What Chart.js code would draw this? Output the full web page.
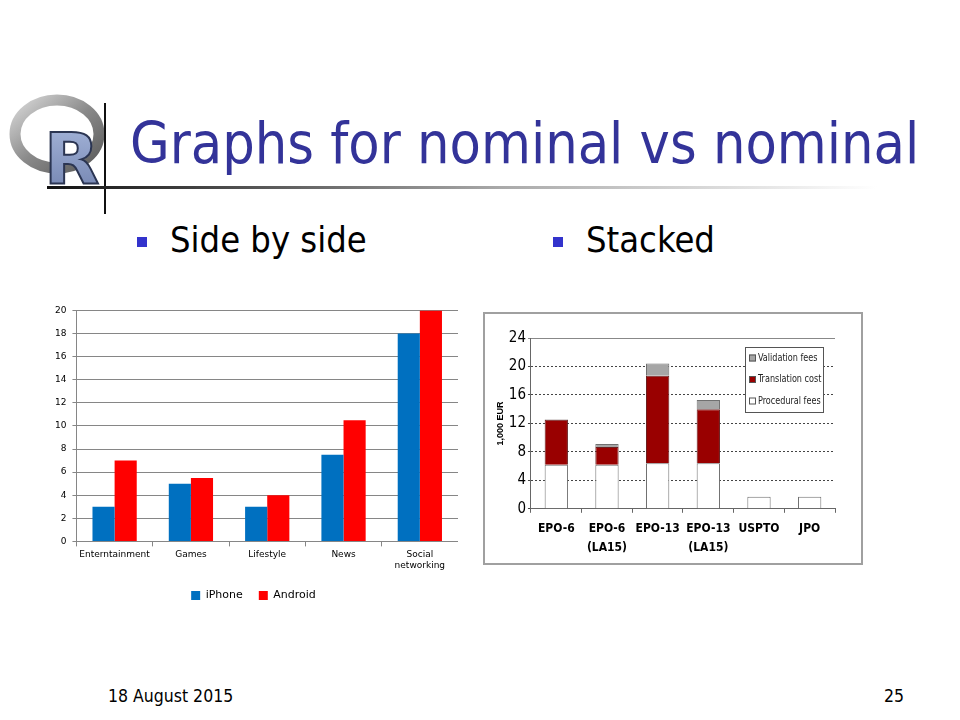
<!DOCTYPE html>
<html>
<head>
<meta charset="utf-8">
<script src="https://cdn.jsdelivr.net/npm/chart.js@4.4.0/dist/chart.umd.min.js"></script>
<style>
  body { margin: 0; background: #fff; }
  #slide { position: relative; width: 960px; height: 720px; overflow: hidden; background: #fff;
           font-family: "DejaVu Sans Condensed", "DejaVu Sans", sans-serif; }
  .abs { position: absolute; }
  #title { left: 130px; top: 115px; font-size: 57px; color: #333399; white-space: nowrap; line-height: 1; }
  .sub { font-size: 36px; color: #000; white-space: nowrap; line-height: 1; top: 222px; }
  .bullet { width: 10px; height: 10px; background: #3333cc; top: 237px; }
  #hline { left: 47px; top: 186px; width: 830px; height: 3px;
           background: linear-gradient(to right, #111 0%, #555 25%, #aaa 55%, #fff 100%); }
  #vline { left: 104px; top: 103px; width: 2px; height: 111px; background: #111; }
  .foot { font-size: 17.5px; color: #000; top: 688px; line-height: 1; }
  #leftBox { left: 49px; top: 299px; width: 409px; height: 312px; }
  #rightFrame { left: 483px; top: 312px; width: 376px; height: 249px; border: 2px solid #a0a0a0; background: #fff; }
  #rightBox { position: absolute; left: 0; top: 0; width: 376px; height: 255px; }
</style>
</head>
<body>
<div id="slide">
  <svg class="abs" style="left:8px;top:90px" width="100" height="100" viewBox="0 0 100 100">
    <defs>
      <linearGradient id="ring" x1="0" y1="0" x2="1" y2="1">
        <stop offset="0" stop-color="#d8d8d8"/>
        <stop offset="0.5" stop-color="#8a8a8a"/>
        <stop offset="1" stop-color="#5a5a5a"/>
      </linearGradient>
      <linearGradient id="rfill" x1="0" y1="0" x2="0" y2="1">
        <stop offset="0" stop-color="#a8b8dc"/>
        <stop offset="1" stop-color="#6f80ad"/>
      </linearGradient>
    </defs>
    <ellipse cx="49" cy="44" rx="42" ry="34" fill="none" stroke="url(#ring)" stroke-width="11"/>
    <text x="36" y="94" font-family="DejaVu Sans" font-weight="bold" font-size="72" fill="url(#rfill)" stroke="#2b3552" stroke-width="2">R</text>
  </svg>
  <div id="vline" class="abs"></div>
  <div id="hline" class="abs"></div>
  <div id="title" class="abs">Graphs for nominal vs nominal</div>

  <div class="abs bullet" style="left:137px"></div>
  <div class="abs sub" style="left:170px">Side by side</div>
  <div class="abs bullet" style="left:553px"></div>
  <div class="abs sub" style="left:586px">Stacked</div>

  <div id="leftBox" class="abs"><canvas id="sideChart"></canvas></div>
  <div id="rightFrame" class="abs"><div id="rightBox"><canvas id="stackChart"></canvas></div></div>

  <div class="abs foot" style="left:108px">18 August 2015</div>
  <div class="abs foot" style="left:884px">25</div>
</div>

<script>
// --- Side by side data ---
const appCategories = ["Enterntainment", "Games", "Lifestyle", "News", ["Social", "networking"]];
const iphoneValues = [3, 5, 3, 7.5, 18];
const androidValues = [7, 5.5, 4, 10.5, 20];
const sideTicks = [0, 2, 4, 6, 8, 10, 12, 14, 16, 18, 20];

// --- Stacked data ---
const officeCategories = ["EPO-6", ["EPO-6", "(LA15)"], "EPO-13", ["EPO-13", "(LA15)"], "USPTO", "JPO"];
const proceduralFees = [6.2, 6.2, 6.4, 6.4, 1.7, 1.7];
const translationCost = [6.3, 2.5, 12.3, 7.6, 0, 0];
const validationFees = [0.1, 0.4, 1.7, 1.3, 0, 0];
const stackTicks = [0, 4, 8, 12, 16, 20, 24];

const narrow = "'DejaVu Sans Condensed', 'DejaVu Sans'";
Chart.defaults.animation = false;

new Chart(document.getElementById("sideChart"), {
  type: "bar",
  data: {
    labels: appCategories,
    datasets: [
      { label: "iPhone", data: iphoneValues, backgroundColor: "#0070c0" },
      { label: "Android", data: androidValues, backgroundColor: "#ff0000" },
    ],
  },
  options: {
    responsive: true,
    maintainAspectRatio: false,
    categoryPercentage: 0.58,
    barPercentage: 1,
    plugins: {
      legend: {
        position: "bottom",
        labels: { boxWidth: 9, boxHeight: 9, padding: 16, color: "#000",
                  font: { family: "DejaVu Sans", size: 11 } },
      },
      tooltip: { enabled: false },
    },
    scales: {
      x: {
        grid: { drawOnChartArea: false, color: "#868686", tickLength: 5 },
        border: { color: "#868686" },
        ticks: { color: "#000", maxRotation: 0, autoSkip: false, font: { family: "DejaVu Sans", size: 9 } },
      },
      y: {
        min: 0,
        max: 20,
        afterBuildTicks: (axis) => { axis.ticks = sideTicks.map((v) => ({ value: v })); },
        grid: { color: "#868686", tickLength: 4 },
        border: { color: "#868686" },
        ticks: { color: "#000", padding: 6, font: { family: "DejaVu Sans", size: 9 } },
      },
    },
  },
});

// legend drawn inside the plot, top right, like the original figure
const insideLegend = {
  id: "insideLegend",
  afterDraw(chart) {
    const ctx = chart.ctx;
    const area = chart.chartArea;
    const items = chart.data.datasets.slice().reverse();
    const w = 78, h = 65;
    const x = area.right - w - 12, y = area.top + 9;
    ctx.save();
    ctx.fillStyle = "#fff";
    ctx.strokeStyle = "#555";
    ctx.lineWidth = 1;
    ctx.fillRect(x, y, w, h);
    ctx.strokeRect(x + 0.5, y + 0.5, w, h);
    ctx.font = "10px " + narrow;
    ctx.textBaseline = "middle";
    items.forEach((ds, i) => {
      const cy = y + 11 + i * 21.5;
      ctx.fillStyle = ds.backgroundColor;
      ctx.fillRect(x + 4, cy - 3.5, 7, 7);
      ctx.strokeStyle = "#555";
      ctx.strokeRect(x + 4.5, cy - 3, 6, 6);
      ctx.fillStyle = "#222";
      ctx.save();
      ctx.translate(x + 13, cy);
      ctx.scale(0.9, 1);
      ctx.fillText(ds.label, 0, 0);
      ctx.restore();
    });
    ctx.restore();
  },
};

new Chart(document.getElementById("stackChart"), {
  type: "bar",
  data: {
    labels: officeCategories,
    datasets: [
      { label: "Procedural fees", data: proceduralFees, backgroundColor: "#ffffff", borderColor: "#707070", borderWidth: 1 },
      { label: "Translation cost", data: translationCost, backgroundColor: "#990000", borderColor: "#6a2020", borderWidth: 1 },
      { label: "Validation fees", data: validationFees, backgroundColor: "#a6a6a6", borderColor: "#707070", borderWidth: 1 },
    ],
  },
  plugins: [insideLegend],
  options: {
    responsive: true,
    maintainAspectRatio: false,
    categoryPercentage: 1,
    barPercentage: 0.46,
    layout: { padding: { left: 10, top: 24, right: 26, bottom: 5 } },
    plugins: { legend: { display: false }, tooltip: { enabled: false } },
    scales: {
      x: {
        stacked: true,
        grid: { drawOnChartArea: false, color: "#666", tickLength: 4 },
        border: { color: "#666" },
        ticks: { color: "#000", maxRotation: 0, autoSkip: false, padding: 7,
                 font: { family: narrow, size: 12, weight: "bold", lineHeight: 1.55 } },
      },
      y: {
        stacked: true,
        min: 0,
        max: 24,
        afterBuildTicks: (axis) => { axis.ticks = stackTicks.map((v) => ({ value: v })); },
        title: { display: true, text: "1,000 EUR", color: "#000", padding: { top: 0, bottom: 1 },
                 font: { family: "'Liberation Sans'", size: 9, weight: "bold" } },
        grid: { color: (c) => (c.tick && c.tick.value === 24 ? "#888" : "#444"), tickLength: 3 },
        border: { color: "#666", dash: (c) => (c.tick && c.tick.value === 24 ? [] : [2, 2]) },
        ticks: { color: "#000", padding: 2, font: { family: narrow, size: 15 } },
      },
    },
  },
});
</script>
</body>
</html>
